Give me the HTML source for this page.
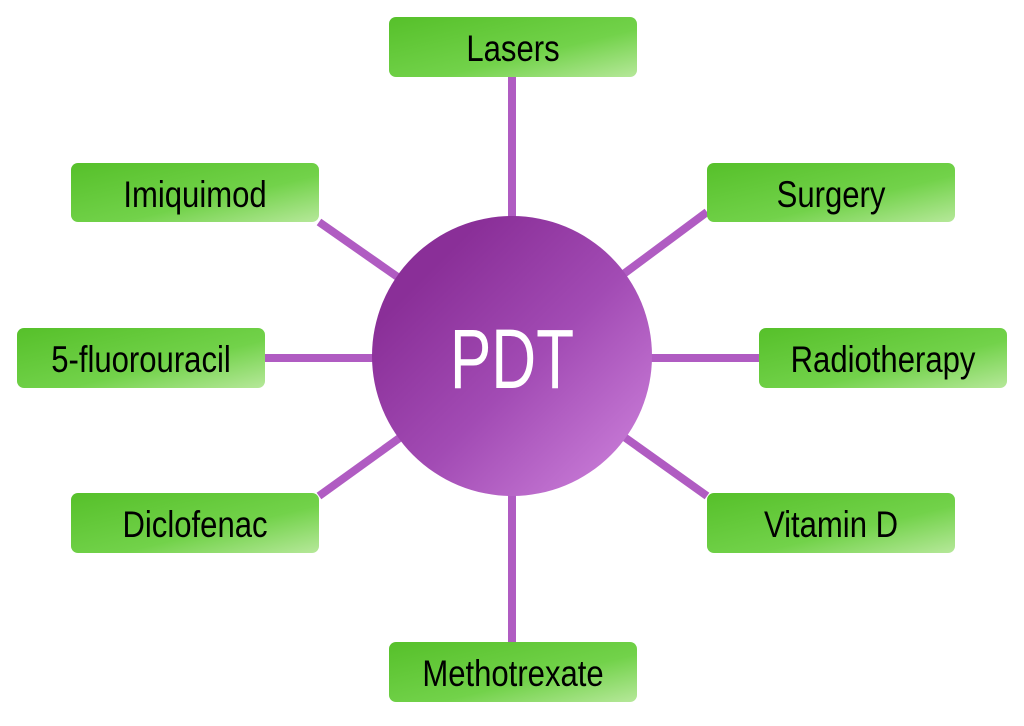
<!DOCTYPE html>
<html><head><style>
body{margin:0;background:#fff;width:1024px;height:721px;overflow:hidden}
svg text{font-family:"Liberation Sans",sans-serif}
</style></head><body>
<svg width="1024" height="721" viewBox="0 0 1024 721">
<defs>
<linearGradient id="g" x1="0" y1="0" x2="1" y2="1">
<stop offset="0" stop-color="#56c02a"/><stop offset="0.6" stop-color="#72d24a"/><stop offset="1" stop-color="#b6e89a"/>
</linearGradient>
<linearGradient id="c" x1="0.2" y1="0.2" x2="0.9" y2="0.9">
<stop offset="0" stop-color="#8a2f98"/><stop offset="0.5" stop-color="#a24bb4"/><stop offset="1" stop-color="#c77ad6"/>
</linearGradient>
</defs>
<g stroke="#b05cc2" stroke-width="8">
<line x1="512" y1="77" x2="512" y2="357"/>
<line x1="512" y1="357" x2="512" y2="642"/>
<line x1="265" y1="358" x2="759" y2="358"/>
<line x1="319" y1="222" x2="512" y2="357"/>
<line x1="707" y1="212" x2="512" y2="357"/>
<line x1="319" y1="496" x2="512" y2="357"/>
<line x1="707" y1="496" x2="512" y2="357"/>
</g>
<circle cx="512" cy="356" r="140" fill="url(#c)"/>
<text x="512" y="388" font-size="84" fill="#fff" text-anchor="middle" transform="translate(512 0) scale(0.74 1) translate(-512 0)">PDT</text>
<g fill="url(#g)">
<rect x="389" y="17" width="248" height="60" rx="7"/>
<rect x="71" y="163" width="248" height="59" rx="7"/>
<rect x="707" y="163" width="248" height="59" rx="7"/>
<rect x="17" y="328" width="248" height="60" rx="7"/>
<rect x="759" y="328" width="248" height="60" rx="7"/>
<rect x="71" y="493" width="248" height="60" rx="7"/>
<rect x="707" y="493" width="248" height="60" rx="7"/>
<rect x="389" y="642" width="248" height="60" rx="7"/>
</g>
<g font-size="37" fill="#000" text-anchor="middle">
<text transform="translate(513 61) scale(0.84 1)">Lasers</text>
<text transform="translate(195 207) scale(0.84 1)">Imiquimod</text>
<text transform="translate(831 207) scale(0.84 1)">Surgery</text>
<text transform="translate(141 372) scale(0.84 1)">5-fluorouracil</text>
<text transform="translate(883 372) scale(0.84 1)">Radiotherapy</text>
<text transform="translate(195 537) scale(0.84 1)">Diclofenac</text>
<text transform="translate(831 537) scale(0.84 1)">Vitamin D</text>
<text transform="translate(513 686) scale(0.84 1)">Methotrexate</text>
</g>
</svg>
</body></html>
